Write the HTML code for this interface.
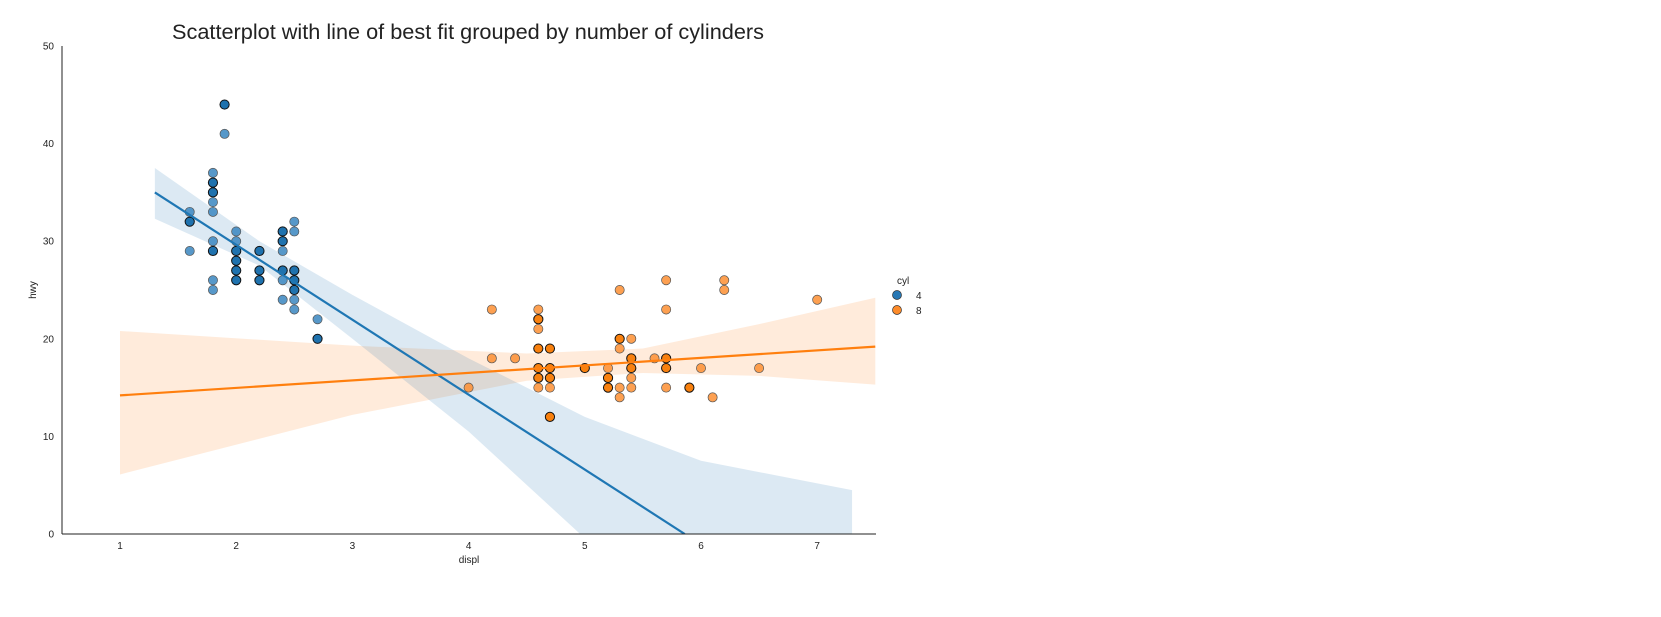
<!DOCTYPE html>
<html><head><meta charset="utf-8"><style>
body{margin:0;background:#fff;font-family:"Liberation Sans",sans-serif}
svg{display:block}
</style></head><body>
<svg id="s" width="1661" height="617" xmlns="http://www.w3.org/2000/svg" font-family="Liberation Sans, sans-serif">
<defs><clipPath id="c"><rect x="62" y="46" width="814" height="488"/></clipPath></defs>
<text x="468" y="39" font-size="21.7" text-anchor="middle" fill="#222">Scatterplot with line of best fit grouped by number of cylinders</text>
<g id="bands" clip-path="url(#c)"></g>
<g id="pts"></g>
<g id="lines" clip-path="url(#c)"></g>
<line x1="62" y1="46" x2="62" y2="534" stroke="#222" stroke-width="1"/>
<line x1="62" y1="534" x2="876" y2="534" stroke="#222" stroke-width="1"/>
<g id="ticks" font-size="10" fill="#222"></g>
<text x="469" y="563" font-size="10" text-anchor="middle" fill="#222">displ</text>
<text x="36" y="290" font-size="10" text-anchor="middle" fill="#222" transform="rotate(-90 36 290)">hwy</text>
<text x="897" y="284" font-size="10" fill="#222">cyl</text>
<circle cx="897" cy="295" r="4.5" fill="#2878b4" stroke="#333" stroke-width="0.7"/>
<text x="916" y="299" font-size="10" fill="#222">4</text>
<circle cx="897" cy="310" r="4.5" fill="#fd8b2a" stroke="#333" stroke-width="0.7"/>
<text x="916" y="314" font-size="10" fill="#222">8</text>
</svg>
<script>
const X=d=>120+(d-1)*116.2, Y=h=>534-h*9.76;
const NS="http://www.w3.org/2000/svg";
function el(p,t,a){const e=document.createElementNS(NS,t);for(const k in a)e.setAttribute(k,a[k]);document.getElementById(p).appendChild(e);return e;}
function poly(up,lo,fill,op){const pts=up.concat(lo.slice().reverse()).map(p=>X(p[0])+","+Y(p[1])).join(" ");el("bands","polygon",{points:pts,fill:fill,"fill-opacity":op});}
poly([[1,20.8],[3,19.3],[4.5,18.5],[5.5,19],[6.5,21.5],[7.5,24.2]],[[1,6.1],[3,12.2],[4.5,15.7],[5.5,16.5],[6.5,16.2],[7.5,15.3]],"#fd8b2a",0.17);
poly([[1.3,37.5],[2.2,30],[3,24.5],[4,18],[5,12],[6,7.5],[7.3,4.5]],[[1.3,32.3],[2.2,27.5],[3,20],[4,10.5],[4.96,0],[7.3,-2]],"#2878b4",0.16);
el("lines","line",{x1:X(1.3),y1:Y(35),x2:X(5.86),y2:Y(0),stroke:"#1f77b4","stroke-width":2.2});
el("lines","line",{x1:X(1),y1:Y(14.2),x2:X(7.5),y2:Y(19.2),stroke:"#ff7f0e","stroke-width":2.2});
const c4={1.6:"33 32d 29",1.8:"37 36d 35d 34 33 30 29d 26 25",1.9:"44d 41",2.0:"31 30 29d 28d 27d 26d",2.2:"29d 27d 26d",2.4:"31d 30d 29 27d 26 24",2.5:"32 31 27d 26d 25d 24 23",2.7:"22 20d"};
const c8={4.0:"15",4.2:"23 18",4.4:"18",4.6:"23 22d 21 19d 17d 16d 15",4.7:"19d 17d 16d 15 12d",5.0:"17d",5.2:"17 16d 15d",5.3:"25 20d 19 15 14",5.4:"20 18d 17d 16 15",5.6:"18",5.7:"26 23 18d 17d 15",5.9:"15d",6.0:"17",6.1:"14",6.2:"26 25",6.5:"17",7.0:"24"};
function draw(m,col,dk){for(const d in m)for(const s of m[d].split(" ")){const dark=s.endsWith("d");const h=parseFloat(s);
el("pts","circle",{cx:X(+d),cy:Y(h),r:4.6,fill:dark?dk:col,stroke:dark?"#111":"#555","stroke-width":dark?1:0.7,"fill-opacity":dark?1:0.85});}}
draw(c4,"#3a86c0","#1f72ae");draw(c8,"#fd8f33","#f8800e");
for(let d=1;d<=7;d++){el("ticks","text",{x:X(d),y:549,"text-anchor":"middle"}).textContent=d;}
for(let h=0;h<=50;h+=10){el("ticks","text",{x:54,y:Y(h)+3.5,"text-anchor":"end"}).textContent=h;}
</script>
</body></html>
